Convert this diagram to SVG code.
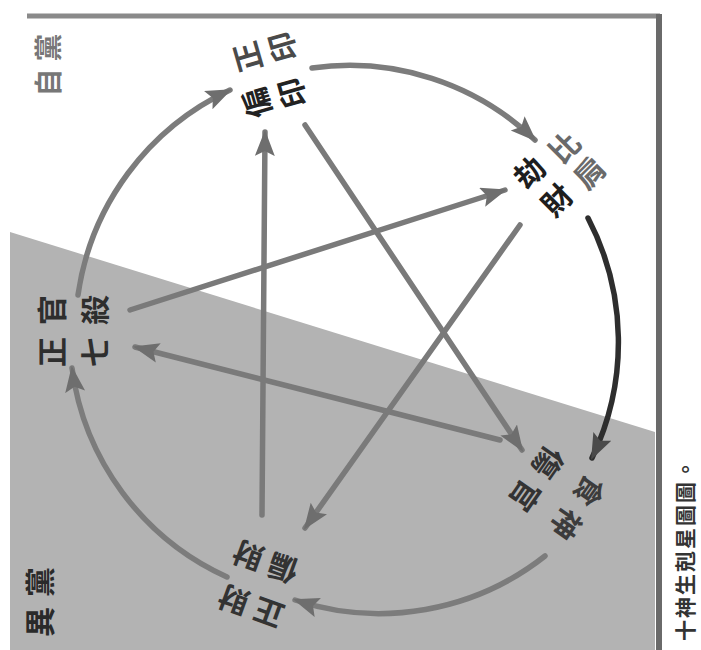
<svg xmlns="http://www.w3.org/2000/svg" width="701" height="650" viewBox="0 0 701 650">
<defs>
<style>
.lbl{font-family:"Noto Sans CJK TC","Noto Sans CJK SC",sans-serif;font-weight:700;dominant-baseline:central;}
.vl{font-family:"Noto Sans CJK TC","Noto Sans CJK SC",sans-serif;font-weight:700;writing-mode:vertical-rl;text-anchor:middle;}
.ring{fill:none;stroke:#7c7c7c;stroke-width:5.5;stroke-linecap:round;}
.ringdark{fill:none;stroke:#2e2e2e;stroke-width:5.5;stroke-linecap:round;}
.star{fill:none;stroke:#7a7a7a;stroke-width:5.5;stroke-linecap:round;}
</style>
<marker id="ah" markerUnits="userSpaceOnUse" markerWidth="28" markerHeight="22" refX="24" refY="10" orient="auto">
<path d="M0,0 L26,10 L0,20 L5,10 z" fill="#6e6e6e"/>
</marker>
<marker id="ahd" markerUnits="userSpaceOnUse" markerWidth="28" markerHeight="22" refX="24" refY="10" orient="auto">
<path d="M0,0 L26,10 L0,20 L5,10 z" fill="#4a4a4a"/>
</marker>
</defs>
<rect x="0" y="0" width="701" height="650" fill="#ffffff"/>
<polygon points="10,232 655,432 655,650 10,650" fill="#b3b3b3"/>
<path d="M27,16 L660,16" stroke="#8a8a8a" stroke-width="5" fill="none"/>
<path d="M659,14 L659,650" stroke="#6a6a6a" stroke-width="6" fill="none"/>

<g id="connectors">
<path class="ring" d="M78,295 A268,268 0 0 1 230,90" marker-end="url(#ah)"/>
<path class="ring" d="M312,68 A268,268 0 0 1 535,140" marker-end="url(#ah)"/>
<path class="ringdark" d="M588,218 A268,268 0 0 1 592,458" marker-end="url(#ahd)"/>
<path class="ring" d="M545,556 A268,268 0 0 1 295,600" marker-end="url(#ah)"/>
<path class="ring" d="M227,577 A268,268 0 0 1 72,368" marker-end="url(#ah)"/>
<path class="star" d="M262,515 L265,132" marker-end="url(#ah)"/>
<path class="star" d="M305,125 L522,450" marker-end="url(#ah)"/>
<path class="star" d="M130,310 L505,190" marker-end="url(#ah)"/>
<path class="star" d="M520,225 L305,528" marker-end="url(#ah)"/>
<path class="star" d="M500,440 L135,347" marker-end="url(#ah)"/>
</g>

<g id="node-yin">
<text class="vl" font-size="30" letter-spacing="6" fill="#4a4a4a" x="0" y="3" transform="translate(265,52) rotate(-106)">正印</text>
<text class="vl" font-size="30" letter-spacing="6" fill="#222" x="0" y="3" transform="translate(274.5,98) rotate(-106)">偏印</text>
</g>
<g id="node-bijie">
<text class="vl" font-size="30" letter-spacing="6" fill="#6a6a6a" x="0" y="3" transform="translate(577,160) rotate(-45)">比肩</text>
<text class="vl" font-size="30" letter-spacing="9" fill="#1e1e1e" x="0" y="4.5" transform="translate(543,186) rotate(-45)">劫財</text>
</g>
<g id="node-shishang">
<text class="lbl" font-size="30" letter-spacing="10" fill="#3c3c3c" text-anchor="middle" x="5" y="0" transform="translate(579,508.5) rotate(125)">食神</text>
<text class="lbl" font-size="30" letter-spacing="10" fill="#333" text-anchor="middle" x="5" y="0" transform="translate(538,480) rotate(125)">傷官</text>
</g>
<g id="node-cai">
<text class="lbl" font-size="30" letter-spacing="7" fill="#333" text-anchor="middle" x="3.5" y="0" transform="translate(250.5,608) rotate(200)">正財</text>
<text class="lbl" font-size="30" letter-spacing="7" fill="#333" text-anchor="middle" x="3.5" y="0" transform="translate(265,563.5) rotate(200)">偏財</text>
</g>
<g id="node-guansha">
<text class="lbl" font-size="30" letter-spacing="12" fill="#2e2e2e" text-anchor="middle" x="6" y="0" transform="translate(50,331) rotate(-90)">正官</text>
<text class="lbl" font-size="30" letter-spacing="12" fill="#2e2e2e" text-anchor="middle" x="6" y="0" transform="translate(93,331) rotate(-90)">七殺</text>
</g>
<g id="label-zidang">
<text class="lbl" font-size="28" letter-spacing="7" fill="#777" text-anchor="middle" x="3.5" y="0" transform="translate(47,65) rotate(-90)">自黨</text>
</g>
<g id="label-yidang">
<text class="lbl" font-size="30" letter-spacing="10" fill="#2a2a2a" text-anchor="middle" x="5" y="0" transform="translate(38,602) rotate(-90)">異黨</text>
</g>
<g id="caption">
<text class="lbl" font-size="21" letter-spacing="2" fill="#333" text-anchor="middle" x="1" y="0" transform="translate(684,550) rotate(-90)">十神生剋星圖圖。</text>
</g>
</svg>
